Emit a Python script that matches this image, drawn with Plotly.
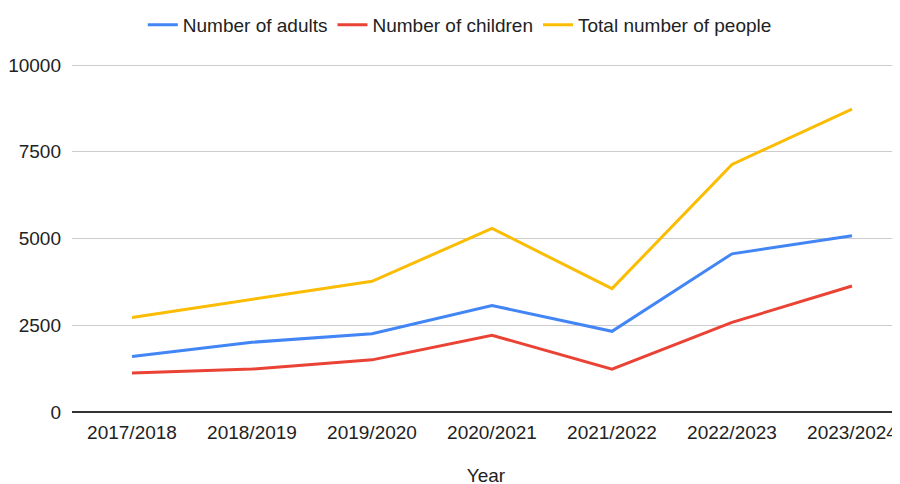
import plotly.graph_objects as go

years = ["2017/2018", "2018/2019", "2019/2020", "2020/2021", "2021/2022", "2022/2023", "2023/2024"]
adults = [1598, 2010, 2257, 3070, 2325, 4559, 5083]
children = [1122, 1237, 1503, 2211, 1237, 2583, 3631]
total = [2726, 3250, 3766, 5292, 3556, 7136, 8728]

y_ticks = [0, 2500, 5000, 7500, 10000]

series = [
    ("Number of adults", adults, "#4285F4"),
    ("Number of children", children, "#EA4335"),
    ("Total number of people", total, "#FBBC04"),
]

FS = 19
TXT = "#222222"

fig = go.Figure()
for name, vals, color in series:
    fig.add_trace(go.Scatter(x=years, y=vals, name=name, mode="lines",
                             line=dict(color=color, width=3)))

fig.update_layout(
    width=900, height=484,
    margin=dict(l=64, r=8, t=55, b=80, autoexpand=False),
    paper_bgcolor="white", plot_bgcolor="white",
    font=dict(family="Liberation Sans, Arial, sans-serif", size=FS, color=TXT),
    legend=dict(orientation="h", xref="container", x=0.502, xanchor="center",
                yref="paper", y=1.109, yanchor="middle",
                font=dict(size=FS, color=TXT),
                itemwidth=30, tracegroupgap=0),
    showlegend=True,
)
fig.update_xaxes(type="category", range=[-0.5, 6.4], showgrid=False, ticks="",
                 showline=False, tickfont=dict(size=FS, color=TXT),
                 ticklabelstandoff=7,
                 title=dict(text="Year", font=dict(size=FS, color=TXT), standoff=26))
fig.update_yaxes(range=[0, 10060], tickvals=y_ticks, ticktext=[str(v) for v in y_ticks],
                 showgrid=True, gridcolor="#CCCCCC", gridwidth=1,
                 zeroline=True, zerolinecolor="#333333", zerolinewidth=2,
                 ticks="", showline=False, tickfont=dict(size=FS, color=TXT),
                 ticklabelstandoff=10)

fig.write_html("out.html")
